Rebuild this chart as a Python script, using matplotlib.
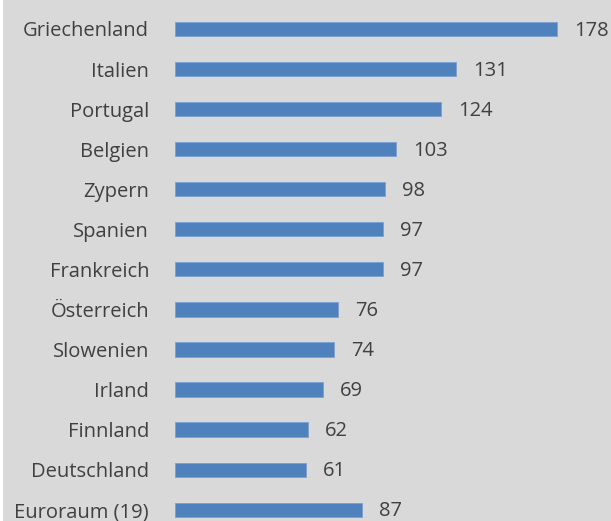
import matplotlib.pyplot as plt
from matplotlib.patches import Rectangle

countries = ['Griechenland', 'Italien', 'Portugal', 'Belgien', 'Zypern', 'Spanien',
             'Frankreich', 'Österreich', 'Slowenien', 'Irland', 'Finnland',
             'Deutschland', 'Euroraum (19)']
values = [178, 131, 124, 103, 98, 97, 97, 76, 74, 69, 62, 61, 87]

BG = '#d9d9d9'
BAR = '#4f81bd'
TXT = '#404040'
plt.rcParams['font.family'] = ['Open Sans', 'DejaVu Sans']

W, H = 611, 521
fig = plt.figure(figsize=(W / 100, H / 100), dpi=100, facecolor=BG)
fig.patches.append(Rectangle((0, 0), 3 / W, 1, transform=fig.transFigure,
                             facecolor='white', edgecolor='none', zorder=-1))

# bars start at x=175 px, 2.146 px per unit
x0 = 175
scale = 2.146
ax = fig.add_axes([x0 / W, 0, (W - x0) / W, 1])
ax.set_facecolor('none')
ax.set_xlim(0, (W - x0) / scale)
step = 40.06
ax.set_ylim((H - 29) / step, -29 / step)

ypos = range(len(countries))
ax.barh(ypos, values, height=0.355, color=BAR, edgecolor='#7a9fd0', linewidth=0.6)

for y, v in zip(ypos, values):
    ax.text(v + 17 / scale, y - 0.02, str(v), va='center_baseline', ha='left',
            fontsize=14.5, color=TXT)

ax.set_yticks(list(ypos))
ax.set_yticklabels(countries, fontsize=14.5, color=TXT)
for lbl in ax.get_yticklabels():
    lbl.set_va('center_baseline')
ax.tick_params(axis='y', length=0, pad=26 * 0.72)
ax.set_xticks([])
for s in ax.spines.values():
    s.set_visible(False)

fig.savefig('out.png', dpi=100, facecolor=BG)
